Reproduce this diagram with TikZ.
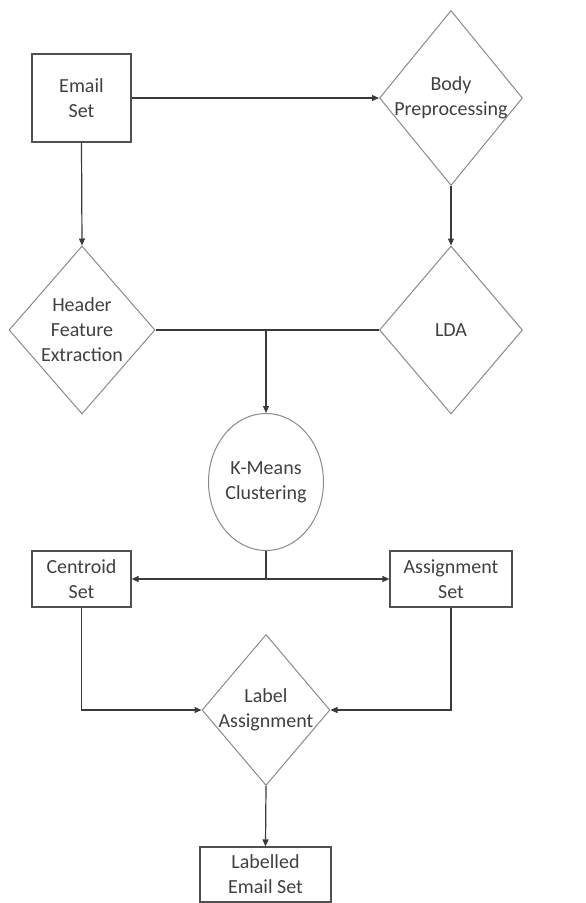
\documentclass[tikz,border=0pt]{standalone}
\usepackage{fontspec}
\setmainfont{Carlito}
\usetikzlibrary{arrows.meta,positioning,calc,shapes.geometric}
\definecolor{BoxLine}{HTML}{505050}
\definecolor{ShapeLine}{HTML}{8A8A8A}
\definecolor{ArrowLine}{HTML}{3A3A3A}
\definecolor{TextGray}{HTML}{404040}

\begin{document}
\begin{tikzpicture}[
    x=1pt,y=-1pt,
    every node/.style={font=\fontsize{20}{25}\selectfont,text=TextGray,align=center},
    box/.style={draw=BoxLine,line width=1.2pt,inner sep=0pt},
    decision/.style={diamond,draw=ShapeLine,line width=1pt,inner sep=0pt},
    cluster/.style={ellipse,draw=ShapeLine,line width=1pt,inner sep=0pt,minimum width=115pt,minimum height=137pt},
    arr/.style={-{Triangle[length=7pt,width=6pt]},ArrowLine,line width=1.2pt},
    link/.style={ArrowLine,line width=1.2pt}
  ]
    \useasboundingbox (0,0) rectangle (586,903);
    \node[box,minimum width=99pt,minimum height=88pt] (email) at (81.5,98) {Email\\Set};
    \node[decision,minimum width=143pt,minimum height=175pt,
      label={[align=center]center:Body\\Preprocessing}] (body) at (451,98) {};
    \node[decision,minimum width=146pt,minimum height=168pt,
      label={[align=center]center:Header\\Feature\\Extraction}] (header) at (82,330) {};
    \node[decision,minimum width=143pt,minimum height=168pt,
      label={[align=center]center:LDA}] (lda) at (451,330) {};
    \node[cluster] (kmeans) at (266,482) {K-Means\\Clustering};
    \node[box,minimum width=99pt,minimum height=56pt] (centroid) at (81.5,579) {Centroid\\Set};
    \node[box,minimum width=122pt,minimum height=56pt] (assign) at (451,579) {Assignment\\Set};
    \node[decision,minimum width=128pt,minimum height=151pt,
      label={[align=center]center:Label\\Assignment}] (label) at (266,710) {};
    \node[box,minimum width=131pt,minimum height=55pt] (labelled) at (265.5,874.5) {Labelled\\Email Set};
    % joints
    \coordinate (merge) at (header.east -| kmeans.north);
    \coordinate (split) at (kmeans.south |- centroid.east);
    % connectors
    \draw[arr] (email.east) -- (body.west);
    \draw[arr] (email.south) -- (header.north);
    \draw[arr] (body.south) -- (lda.north);
    \draw[link] (header.east) -- (lda.west);
    \draw[arr] (merge) -- (kmeans.north);
    \draw[link] (kmeans.south) -- (split);
    \draw[arr] (split) -- (centroid.east);
    \draw[arr] (split) -- (assign.west);
    \draw[arr] (centroid.south) |- (label.west);
    \draw[arr] (assign.south) |- (label.east);
    \draw[arr] (label.south) -- (labelled.north);
  \end{tikzpicture}
\end{document}
